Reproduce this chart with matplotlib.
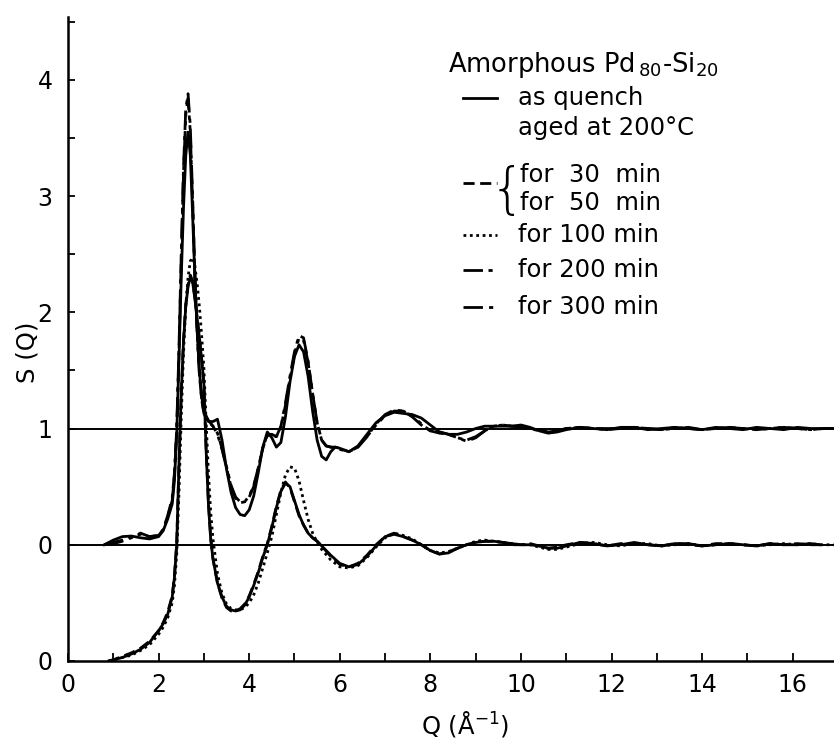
import numpy as np
import matplotlib
matplotlib.use("Agg")
import matplotlib.pyplot as plt
from matplotlib.lines import Line2D

plt.rcParams['font.family'] = ['DejaVu Sans']

# upper set of curves (goes to 1 at large Q)
q_up = [0.8, 1.0, 1.2, 1.4, 1.6, 1.8, 2.0, 2.1, 2.2, 2.3,
        2.35, 2.4, 2.45, 2.5, 2.55, 2.6, 2.65, 2.7, 2.75, 2.8, 2.85, 2.9, 2.95, 3.0,
        3.1, 3.2, 3.3, 3.4, 3.5, 3.6, 3.7, 3.8, 3.9, 4.0,
        4.1, 4.2, 4.3, 4.4, 4.5, 4.6, 4.7, 4.8, 4.9, 5.0,
        5.1, 5.2, 5.3, 5.4, 5.5, 5.6, 5.7, 5.8, 5.9, 6.0,
        6.2, 6.4, 6.6, 6.8, 7.0, 7.2, 7.4, 7.6, 7.8, 8.0,
        8.2, 8.4, 8.6, 8.8, 9.0, 9.2, 9.4, 9.6, 9.8, 10.0,
        10.2, 10.4, 10.6, 10.8, 11.0, 11.3, 11.6, 11.9, 12.2, 12.5,
        12.8, 13.1, 13.4, 13.7, 14.0, 14.3, 14.6, 14.9, 15.2, 15.5,
        15.8, 16.1, 16.4, 16.7, 16.9]
up_quench = [0.0, 0.04, 0.07, 0.075, 0.06, 0.05, 0.07, 0.12, 0.22, 0.35,
             0.55, 0.95, 1.6, 2.3, 2.9, 3.35, 3.55, 3.35, 2.85, 2.3, 1.85, 1.5, 1.28, 1.15,
             1.06, 1.06, 1.08, 0.9, 0.65, 0.45, 0.32, 0.26, 0.25, 0.3,
             0.42, 0.62, 0.84, 0.97, 0.92, 0.84, 0.88, 1.1, 1.4, 1.62,
             1.72, 1.66, 1.45, 1.15, 0.9, 0.76, 0.73, 0.8, 0.84, 0.83,
             0.8, 0.85, 0.95, 1.05, 1.11, 1.14, 1.13, 1.12, 1.09, 1.03,
             0.97, 0.95, 0.95, 0.97, 1.0, 1.02, 1.02, 1.02, 1.02, 1.03,
             1.01, 0.98, 0.96, 0.97, 0.99, 1.01, 1.0, 0.99, 1.01, 1.01,
             0.99, 1.0, 1.01, 1.0, 0.99, 1.01, 1.0, 0.99, 1.01, 1.0,
             0.99, 1.01, 1.0, 1.0, 1.0]
up_200 = [0.0, 0.02, 0.04, 0.07, 0.09, 0.07, 0.08, 0.13, 0.24, 0.38,
          0.6, 0.98, 1.66, 2.45, 3.2, 3.7, 3.84, 3.55, 2.95, 2.32, 1.83, 1.47, 1.25, 1.13,
          1.06, 1.02, 0.96, 0.83, 0.67, 0.51, 0.41, 0.37, 0.37, 0.42,
          0.51, 0.66, 0.83, 0.95, 0.95, 0.93, 1.01, 1.2, 1.43, 1.64,
          1.78, 1.76, 1.57, 1.3, 1.05, 0.9, 0.85, 0.84, 0.83, 0.82,
          0.8, 0.84, 0.93, 1.03, 1.11, 1.15, 1.15, 1.11, 1.04, 0.98,
          0.96, 0.95, 0.92, 0.9, 0.93, 0.98, 1.02, 1.03, 1.02, 1.01,
          1.0, 0.98, 0.97, 0.98, 1.0, 1.01, 1.0, 1.0, 1.0, 1.01,
          1.0, 0.99, 1.0, 1.01, 0.99, 1.0, 1.01, 1.0, 0.99, 1.0,
          1.01, 1.0, 0.99, 1.0, 1.0]
up_300 = [0.0, 0.01, 0.03, 0.06, 0.1, 0.07, 0.08, 0.13, 0.25, 0.4,
          0.62, 1.0, 1.7, 2.5, 3.25, 3.75, 3.88, 3.6, 3.0, 2.35, 1.85, 1.48, 1.26, 1.14,
          1.07, 1.02, 0.95, 0.82, 0.66, 0.5, 0.4, 0.36, 0.37, 0.41,
          0.5, 0.66, 0.83, 0.94, 0.94, 0.93, 1.02, 1.22, 1.45, 1.66,
          1.8, 1.78, 1.58, 1.3, 1.05, 0.9, 0.85, 0.84, 0.84, 0.83,
          0.8, 0.84, 0.93, 1.04, 1.12, 1.16, 1.15, 1.1, 1.03, 0.98,
          0.97, 0.95, 0.92, 0.89, 0.92, 0.98, 1.02, 1.03, 1.02, 1.02,
          1.0, 0.99, 0.97, 0.98, 1.0, 1.01, 1.0, 0.99, 1.0, 1.01,
          1.0, 0.99, 1.01, 1.0, 0.99, 1.0, 1.01, 1.0, 0.99, 1.0,
          1.01, 1.0, 0.99, 1.0, 1.0]

# lower set of curves (goes to 0 at large Q, -1 at small Q)
q_low = [0.9, 1.0, 1.2, 1.4, 1.6, 1.8, 2.0, 2.1, 2.2, 2.3,
         2.35, 2.4, 2.45, 2.5, 2.55, 2.6, 2.65, 2.7, 2.75, 2.8, 2.85, 2.9, 2.95, 3.0, 3.05,
         3.1, 3.15, 3.2, 3.3, 3.4, 3.5, 3.6, 3.7, 3.8, 3.9,
         4.0, 4.1, 4.2, 4.3, 4.4, 4.5, 4.6, 4.7, 4.8, 4.9,
         5.0, 5.1, 5.2, 5.3, 5.4, 5.5, 5.6, 5.8, 6.0, 6.2,
         6.4, 6.6, 6.8, 7.0, 7.2, 7.4, 7.6, 7.8, 8.0, 8.2,
         8.4, 8.6, 8.8, 9.0, 9.2, 9.4, 9.6, 9.8, 10.0, 10.2,
         10.4, 10.6, 10.8, 11.0, 11.3, 11.6, 11.9, 12.2, 12.5, 12.8,
         13.1, 13.4, 13.7, 14.0, 14.3, 14.6, 14.9, 15.2, 15.5, 15.8,
         16.1, 16.4, 16.6, 16.9]
low_quench = [-1.0, -0.99, -0.97, -0.94, -0.9, -0.84, -0.74, -0.68, -0.6, -0.45,
              -0.28, 0.0, 0.7, 1.3, 1.75, 2.05, 2.22, 2.3, 2.26, 2.12, 1.95, 1.78, 1.6, 1.38, 0.8,
              0.35, 0.05, -0.12, -0.33, -0.45, -0.53, -0.56, -0.57, -0.56, -0.52,
              -0.45, -0.35, -0.24, -0.11, 0.0, 0.15, 0.32, 0.46, 0.53, 0.5,
              0.38, 0.26, 0.17, 0.1, 0.06, 0.03, -0.01, -0.09, -0.16, -0.19,
              -0.17, -0.1, -0.01, 0.07, 0.09, 0.07, 0.04, 0.0, -0.05, -0.08,
              -0.07, -0.03, 0.0, 0.02, 0.03, 0.03, 0.02, 0.01, 0.0, 0.0,
              -0.01, -0.03, -0.03, -0.01, 0.02, 0.01, -0.01, 0.0, 0.02, 0.0,
              -0.01, 0.01, 0.01, -0.01, 0.0, 0.01, 0.0, -0.01, 0.01, 0.0,
              0.0, 0.01, 0.0, np.nan]
low_30_50 = [-1.0, -0.99, -0.96, -0.93, -0.89, -0.83, -0.74, -0.67, -0.58, -0.44,
             -0.26, 0.02, 0.7, 1.3, 1.76, 2.07, 2.24, 2.32, 2.27, 2.13, 1.96, 1.79, 1.6, 1.38, 0.82,
             0.36, 0.06, -0.12, -0.33, -0.46, -0.54, -0.57, -0.57, -0.55, -0.51,
             -0.44, -0.34, -0.23, -0.1, 0.01, 0.16, 0.33, 0.47, 0.54, 0.49,
             0.37, 0.25, 0.17, 0.1, 0.06, 0.03, -0.01, -0.1, -0.17, -0.19,
             -0.16, -0.09, 0.0, 0.07, 0.1, 0.07, 0.04, 0.0, -0.05, -0.08,
             -0.06, -0.03, 0.0, 0.02, 0.03, 0.03, 0.02, 0.0, 0.0, 0.01,
             -0.01, -0.03, -0.02, 0.0, 0.02, 0.01, -0.01, 0.01, 0.01, 0.0,
             -0.01, 0.01, 0.0, -0.01, 0.01, 0.01, 0.0, -0.01, 0.01, 0.0,
             0.01, 0.0, 0.0, np.nan]
low_100 = [-1.0, -0.99, -0.97, -0.95, -0.91, -0.86, -0.77, -0.71, -0.63, -0.5,
           -0.35, -0.08, 0.45, 1.1, 1.65, 2.05, 2.3, 2.44, 2.47, 2.4, 2.25, 2.05, 1.8, 1.52, 1.05,
           0.62, 0.28, 0.05, -0.25, -0.42, -0.51, -0.55, -0.56, -0.56, -0.54,
           -0.5, -0.43, -0.33, -0.2, -0.07, 0.07, 0.26, 0.45, 0.6, 0.67,
           0.66, 0.55, 0.38, 0.22, 0.1, 0.02, -0.04, -0.13, -0.19, -0.2,
           -0.18, -0.11, -0.02, 0.06, 0.1, 0.08, 0.05, 0.0, -0.05, -0.07,
           -0.06, -0.03, 0.0, 0.03, 0.04, 0.03, 0.02, 0.01, 0.0, 0.0,
           -0.02, -0.04, -0.04, -0.02, 0.01, 0.02, 0.0, -0.01, 0.01, 0.01,
           -0.01, 0.0, 0.01, -0.01, 0.0, 0.01, 0.0, -0.01, 0.0, 0.01,
           0.0, 0.01, 0.0, 0.0]

ytick_vals = [-1, 0, 1, 2, 3, 4]
ytick_labels = ['0', '0', '1', '2', '3', '4']
xtick_vals = [0, 2, 4, 6, 8, 10, 12, 14, 16]

solid = '-'
dashed = (0, (4, 2))
dotted = (0, (1, 1.3))
dashdotdot = (0, (7, 2, 1.5, 2, 1.5, 2))
dashdot = (0, (7, 2.2, 1.5, 2.2))

W, H = 834, 742
fig = plt.figure(figsize=(W / 100, H / 100), dpi=100)
ax = fig.add_axes([68 / W, 81 / H, (W - 68) / W, 644 / H])

lw = 2.0
ax.plot(q_up, up_quench, color='black', lw=lw, ls=solid)
ax.plot(q_up, up_200, color='black', lw=lw, ls=dashdotdot)
ax.plot(q_up, up_300, color='black', lw=lw, ls=dashdot)
ax.plot(q_low, low_quench, color='black', lw=lw, ls=solid)
ax.plot(q_low, low_30_50, color='black', lw=lw, ls=dashed)
ax.plot(q_low, low_100, color='black', lw=lw, ls=dotted)

ax.axhline(0, color='black', lw=1.4)
ax.axhline(1, color='black', lw=1.4)

ax.set_xlim(0, 16.91)
ax.set_ylim(-1, 4.54)
ax.spines['top'].set_visible(False)
ax.spines['right'].set_visible(False)
ax.spines['left'].set_linewidth(1.8)
ax.spines['bottom'].set_linewidth(1.8)

ax.set_xticks(xtick_vals)
ax.set_xticks(np.arange(1, 17, 2), minor=True)
ax.set_yticks(ytick_vals)
ax.set_yticklabels(ytick_labels)
ax.set_yticks([1.5, 2.5, 3.5, 4.5], minor=True)
ax.tick_params(which='both', direction='in', length=6, width=1.3,
               labelsize=17, pad=9)
ax.tick_params(axis='y', which='both', length=5, pad=11)

fs = 17.5
fig.text(28 / W, 1 - 352 / H, 'S (Q)', rotation=90, fontsize=fs,
         ha='center', va='center')
fig.text(465 / W, 1 - 724 / H, 'Q (Å$^{-1}$)', fontsize=fs,
         ha='center', va='center')


def fx(x):
    return x / W


def fy(y):
    return 1 - y / H


fig.text(fx(448), fy(72), r'Amorphous Pd$_{\,80}$-Si$_{20}$', fontsize=18.5,
         ha='left', va='baseline')

legend_rows = [
    (98, solid, 'as quench'),
    (183, dashed, None),
    (235, dotted, 'for 100 min'),
    (270, dashdotdot, 'for 200 min'),
    (307, dashdot, 'for 300 min'),
]
for y, style, label in legend_rows:
    fig.add_artist(Line2D([fx(463), fx(497)], [fy(y), fy(y)], color='black',
                          lw=lw, ls=style))
    if label is not None:
        fig.text(fx(518), fy(y), label, fontsize=fs, ha='left', va='center')

fig.text(fx(518), fy(128), 'aged at 200°C', fontsize=fs, ha='left', va='center')
fig.text(fx(507), fy(192), '{', fontsize=40, ha='center', va='center',
         fontweight='light')
fig.text(fx(520), fy(175), 'for  30  min', fontsize=fs, ha='left', va='center')
fig.text(fx(520), fy(203), 'for  50  min', fontsize=fs, ha='left', va='center')

fig.savefig('out.png', dpi=100)
